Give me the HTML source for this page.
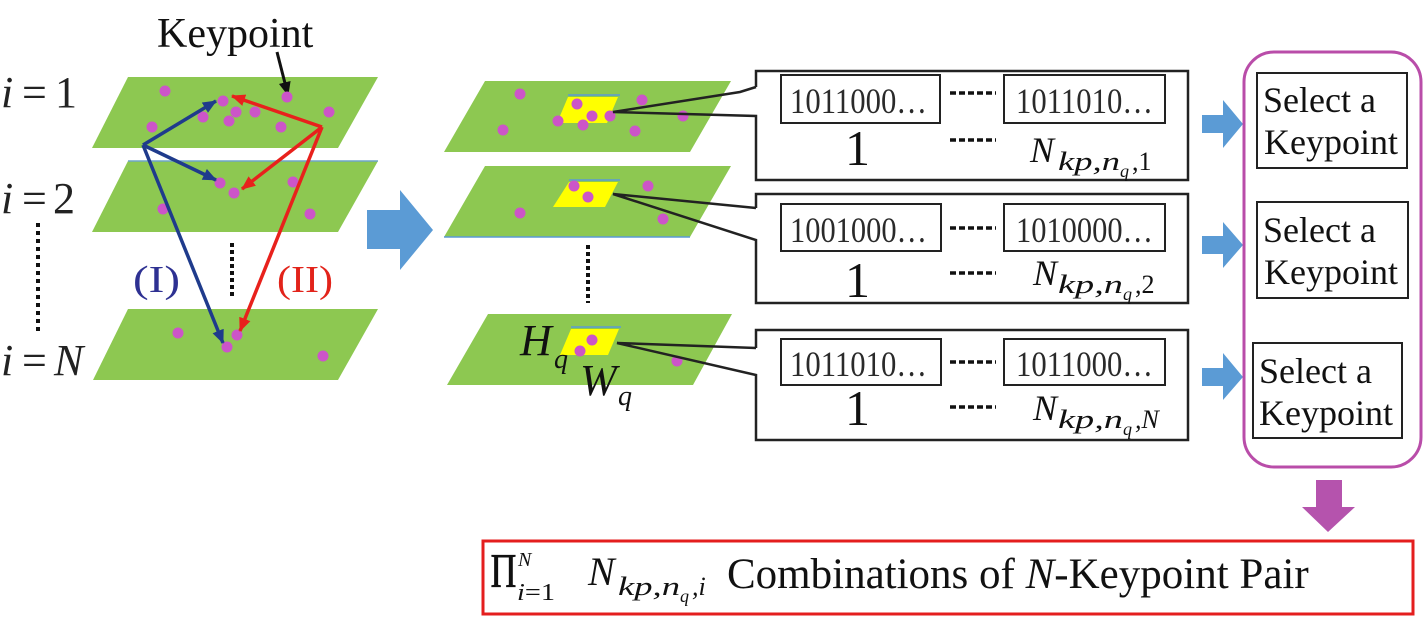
<!DOCTYPE html>
<html><head><meta charset="utf-8"><style>
html,body{margin:0;padding:0;background:#fff;}
svg{display:block;}
text{font-family:"Liberation Serif","DejaVu Serif",serif;}
</style></head><body>
<svg width="1423" height="626" viewBox="0 0 1423 626" xmlns="http://www.w3.org/2000/svg" font-family="Liberation Serif, DejaVu Serif, serif">
<defs>
<marker id="mb" viewBox="0 0 14 12" refX="13" refY="6" markerWidth="14" markerHeight="12" markerUnits="userSpaceOnUse" orient="auto"><path d="M0,0 L14,6 L0,12 Z" fill="#1f3b8c"/></marker>
<marker id="mr" viewBox="0 0 14 12" refX="13" refY="6" markerWidth="14" markerHeight="12" markerUnits="userSpaceOnUse" orient="auto"><path d="M0,0 L14,6 L0,12 Z" fill="#e8211c"/></marker>
<marker id="mk" viewBox="0 0 14 12" refX="13" refY="6" markerWidth="14" markerHeight="12" markerUnits="userSpaceOnUse" orient="auto"><path d="M0,0 L14,6 L0,12 Z" fill="#111"/></marker>
</defs>

<!-- Left labels -->
<g font-size="44" fill="#222">
<text x="1" y="107" font-style="italic">i</text><text x="22" y="107">=</text><text x="55" y="107">1</text>
<text x="1" y="213" font-style="italic">i</text><text x="22" y="213">=</text><text x="53" y="213">2</text>
<text x="1" y="375" font-style="italic">i</text><text x="22" y="375">=</text><text x="54" y="375" font-style="italic">N</text>
</g>
<line x1="38" y1="223" x2="38" y2="333" stroke="#111" stroke-width="4" stroke-dasharray="4 4"/>

<text x="157" y="47" font-size="42" fill="#111">Keypoint</text>

<!-- Left planes -->
<g fill="#8dc851">
<polygon points="128,77 378,77 338,148 92,148"/>
<polygon points="128,161 378,161 338,232 92,232"/>
<polygon points="128,309 378,309 338,380 93,380"/>
</g>
<line x1="128" y1="161" x2="378" y2="161" stroke="#6fa6c8" stroke-width="1.5"/>
<line x1="277" y1="52" x2="288" y2="95" stroke="#111" stroke-width="3" marker-end="url(#mk)"/>
<g fill="#cc55c8">
<circle cx="165" cy="91" r="5.5"/><circle cx="223" cy="101" r="5.5"/><circle cx="203" cy="117" r="5.5"/>
<circle cx="236" cy="112" r="5.5"/><circle cx="229" cy="121" r="5.5"/><circle cx="255" cy="112" r="5.5"/>
<circle cx="287" cy="97" r="5.5"/><circle cx="329" cy="112" r="5.5"/><circle cx="152" cy="127" r="5.5"/>
<circle cx="281" cy="127" r="5.5"/>
<circle cx="220" cy="183" r="5.5"/><circle cx="234" cy="193" r="5.5"/><circle cx="293" cy="182" r="5.5"/>
<circle cx="163" cy="209" r="5.5"/><circle cx="310" cy="214" r="5.5"/>
<circle cx="178" cy="333" r="5.5"/><circle cx="237" cy="335" r="5.5"/><circle cx="227" cy="347" r="5.5"/>
<circle cx="323" cy="356" r="5.5"/>
</g>
<!-- arrows -->
<g stroke="#1f3b8c" stroke-width="3.5" fill="none">
<line x1="143" y1="145" x2="216" y2="101" marker-end="url(#mb)"/>
<line x1="143" y1="145" x2="216" y2="180" marker-end="url(#mb)"/>
<line x1="143" y1="145" x2="223" y2="343" marker-end="url(#mb)"/>
</g>
<g stroke="#e8211c" stroke-width="3.5" fill="none">
<line x1="322" y1="127" x2="232" y2="96" marker-end="url(#mr)"/>
<line x1="322" y1="127" x2="242" y2="189" marker-end="url(#mr)"/>
<line x1="322" y1="127" x2="240" y2="331" marker-end="url(#mr)"/>
</g>
<text x="133" y="292" font-size="38" fill="#2e3192" textLength="47" lengthAdjust="spacingAndGlyphs">(I)</text>
<text x="277" y="292" font-size="38" fill="#e2231a" textLength="56" lengthAdjust="spacingAndGlyphs">(II)</text>
<line x1="232" y1="243" x2="232" y2="298" stroke="#111" stroke-width="4" stroke-dasharray="4 3"/>

<!-- Big blue arrow -->
<polygon points="367,210 400,210 400,190 433,230 400,270 400,249 367,249" fill="#5b9bd5"/>

<!-- Middle planes -->
<g fill="#8dc851">
<polygon points="485,81 731,81 690,152 444,152"/>
<polygon points="485,166 731,166 690,237 444,237"/>
<polygon points="488,314 732,314 693,385 447,385"/>
</g>
<line x1="444" y1="237" x2="690" y2="237" stroke="#5b9bd5" stroke-width="1.5"/>
<g fill="#ffff00">
<polygon points="568,97 618,97 607,123 557,123"/>
<polygon points="569,182 618,182 605,207 553,207"/>
<polygon points="571,329 619,329 608,355 560,355"/>
</g>
<g stroke="#5b9bd5" stroke-width="1.5">
<line x1="568" y1="95" x2="620" y2="95"/>
<line x1="569" y1="180" x2="620" y2="180"/>
<line x1="571" y1="327" x2="621" y2="327"/>
</g>
<g fill="#cc55c8">
<circle cx="520" cy="94" r="5.5"/><circle cx="577" cy="104" r="5.5"/><circle cx="592" cy="116" r="5.5"/>
<circle cx="583" cy="125" r="5.5"/><circle cx="558" cy="121" r="5.5"/><circle cx="610" cy="116" r="5.5"/>
<circle cx="642" cy="100" r="5.5"/><circle cx="683" cy="116" r="5.5"/><circle cx="503" cy="130" r="5.5"/>
<circle cx="635" cy="131" r="5.5"/>
<circle cx="574" cy="186" r="5.5"/><circle cx="588" cy="197" r="5.5"/><circle cx="648" cy="186" r="5.5"/>
<circle cx="520" cy="213" r="5.5"/><circle cx="663" cy="219" r="5.5"/>
<circle cx="592" cy="340" r="5.5"/><circle cx="580" cy="351" r="5.5"/><circle cx="677" cy="361" r="5.5"/>
</g>
<line x1="588" y1="245" x2="588" y2="303" stroke="#111" stroke-width="4" stroke-dasharray="4 3"/>
<text x="520" y="355" font-size="44" font-style="italic" fill="#111">H</text>
<text x="554" y="368" font-size="28" font-style="italic" fill="#111">q</text>
<text x="580" y="395" font-size="44" font-style="italic" fill="#111">W</text>
<text x="618" y="405" font-size="28" font-style="italic" fill="#111">q</text>

<!-- Callouts -->
<g fill="#fff" stroke="none">
<rect x="756" y="71" width="432" height="109"/>
<rect x="756" y="194" width="432" height="109"/>
<rect x="756" y="330" width="432" height="110"/>
</g>
<g fill="none" stroke="#222" stroke-width="2.5" stroke-linejoin="miter">
<path d="M756,87 V71 H1188 V180 H756 V116 L613,112 L740,92 L756,87"/>
<path d="M756,208 V194 H1188 V303 H756 V240 L613,194 L756,208"/>
<path d="M756,348 V330 H1188 V440 H756 V375 L617,343 L756,348"/>
</g>
<!-- inner boxes -->
<g fill="#fff" stroke="#222" stroke-width="2">
<rect x="781" y="75" width="159" height="48"/><rect x="1004" y="75" width="161" height="48"/>
<rect x="781" y="204" width="160" height="47"/><rect x="1004" y="204" width="161" height="47"/>
<rect x="781" y="339" width="160" height="46"/><rect x="1004" y="339" width="161" height="46"/>
</g>
<g font-size="36" fill="#2a2a2a">
<text x="790" y="113" textLength="137" lengthAdjust="spacingAndGlyphs">1011000…</text>
<text x="1016" y="113" textLength="137" lengthAdjust="spacingAndGlyphs">1011010…</text>
<text x="790" y="242" textLength="137" lengthAdjust="spacingAndGlyphs">1001000…</text>
<text x="1016" y="242" textLength="137" lengthAdjust="spacingAndGlyphs">1010000…</text>
<text x="790" y="376" textLength="137" lengthAdjust="spacingAndGlyphs">1011010…</text>
<text x="1016" y="376" textLength="137" lengthAdjust="spacingAndGlyphs">1011000…</text>
</g>
<g stroke="#111" stroke-width="3.5" stroke-dasharray="6 3">
<line x1="950" y1="93" x2="996" y2="93"/><line x1="950" y1="140" x2="996" y2="140"/>
<line x1="950" y1="228" x2="996" y2="228"/><line x1="950" y1="273" x2="996" y2="273"/>
<line x1="950" y1="362" x2="996" y2="362"/><line x1="950" y1="407" x2="996" y2="407"/>
</g>
<g font-size="50" fill="#111">
<text x="845" y="165">1</text>
<text x="845" y="297">1</text>
<text x="845" y="425">1</text>
</g>
<g fill="#111" font-style="italic">
<text x="1030" y="162" font-size="36">N</text>
<text x="1058" y="170" font-size="26" textLength="62" lengthAdjust="spacingAndGlyphs">kp,n</text>
<text x="1120" y="177" font-size="18">q</text>
<text x="1132" y="170" font-size="26" font-style="normal">,1</text>
<text x="1033" y="285" font-size="36">N</text>
<text x="1058" y="293" font-size="26" textLength="65" lengthAdjust="spacingAndGlyphs">kp,n</text>
<text x="1123" y="300" font-size="18">q</text>
<text x="1135" y="293" font-size="26" font-style="normal">,2</text>
<text x="1033" y="420" font-size="36">N</text>
<text x="1058" y="428" font-size="26" textLength="65" lengthAdjust="spacingAndGlyphs">kp,n</text>
<text x="1123" y="435" font-size="18">q</text>
<text x="1135" y="428" font-size="26">,N</text>
</g>

<!-- small blue arrows -->
<g fill="#5b9bd5">
<polygon points="1202,115 1223,115 1223,100 1243,124 1223,148 1223,133 1202,133"/>
<polygon points="1202,236 1223,236 1223,222 1243,245 1223,268 1223,254 1202,254"/>
<polygon points="1202,368 1223,368 1223,353 1243,377 1223,400 1223,386 1202,386"/>
</g>

<!-- magenta group -->
<rect x="1244" y="52" width="177" height="415" rx="30" ry="30" fill="none" stroke="#b94da9" stroke-width="3"/>
<g fill="#fff" stroke="#222" stroke-width="2">
<rect x="1257" y="73" width="150" height="95"/>
<rect x="1257" y="202" width="151" height="96"/>
<rect x="1253" y="343" width="149" height="95"/>
</g>
<g font-size="36" fill="#111">
<text x="1263" y="112">Select a</text><text x="1264" y="154">Keypoint</text>
<text x="1263" y="242">Select a</text><text x="1264" y="284">Keypoint</text>
<text x="1259" y="383">Select a</text><text x="1259" y="425">Keypoint</text>
</g>

<!-- purple down arrow -->
<polygon points="1316,480 1342,480 1342,507 1355,507 1328,532 1302,507 1316,507" fill="#b553ad"/>

<!-- Bottom red box -->
<rect x="483" y="541" width="930" height="73" fill="#fff" stroke="#e41e1e" stroke-width="3"/>
<text x="490" y="579" font-size="36" fill="#111" stroke="#111" stroke-width="1" textLength="27" lengthAdjust="spacingAndGlyphs">∏</text>
<text x="518" y="566" font-size="20" font-style="italic" fill="#111">N</text>
<text x="517" y="600" font-size="24" fill="#111" textLength="38" lengthAdjust="spacingAndGlyphs"><tspan font-style="italic">i</tspan>=1</text>
<g fill="#111" font-style="italic">
<text x="588" y="585" font-size="40">N</text>
<text x="618" y="595" font-size="26" textLength="62" lengthAdjust="spacingAndGlyphs">kp,n</text>
<text x="680" y="602" font-size="18">q</text>
<text x="692" y="595" font-size="26">,i</text>
</g>
<text x="727" y="588" font-size="43" fill="#111">Combinations of <tspan font-style="italic">N</tspan>-Keypoint Pair</text>
</svg>
</body></html>
